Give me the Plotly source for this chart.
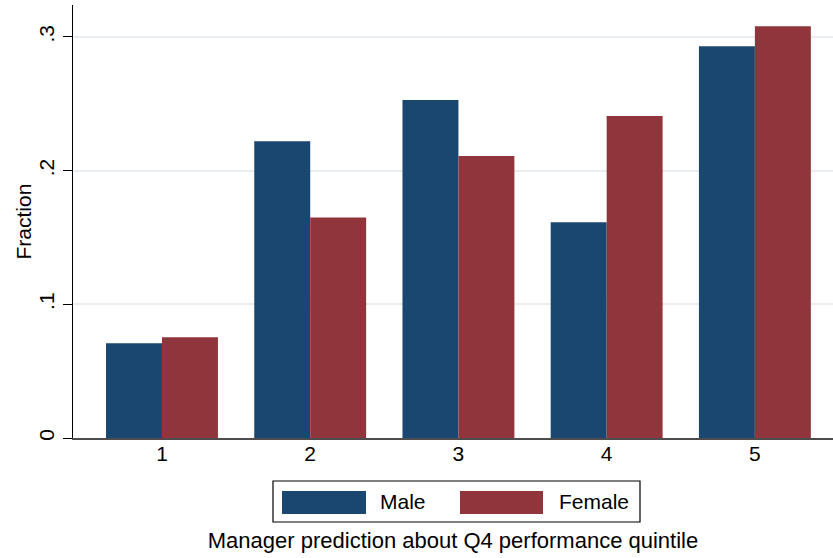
import plotly.graph_objects as go

# ---- data ----
categories = [1, 2, 3, 4, 5]
male = [0.0709, 0.222, 0.2528, 0.1614, 0.293]
female = [0.0754, 0.165, 0.211, 0.2408, 0.308]
ytick_vals = [0, 0.1, 0.2, 0.3]
ytick_text = ["0", ".1", ".2", ".3"]
series_names = ["Male", "Female"]
colors = ["#1a476f", "#90353b"]

W, H = 833, 558
L, R, T, B = 73, 0, 5, 120
pw, ph = W - L - R, H - T - B

def px_x(p):
    return (p - L) / pw

def px_y(p):
    return (H - B - p) / ph

FONT = "Liberation Sans, Arial, Helvetica, sans-serif"

fig = go.Figure()
for name, vals, col in zip(series_names, [male, female], colors):
    fig.add_trace(go.Bar(x=categories, y=vals, name=name,
                         marker=dict(color=col, line=dict(width=0)),
                         showlegend=False))

fig.update_layout(
    width=W, height=H,
    margin=dict(l=L, r=R, t=T, b=B, autoexpand=False),
    paper_bgcolor="white", plot_bgcolor="white",
    barmode="group", bargap=0.245, bargroupgap=0,
    font=dict(family=FONT, size=21, color="black"),
    showlegend=False,
)

fig.update_xaxes(
    range=[0.3997, 5.527], tickvals=categories,
    ticktext=[str(c) for c in categories],
    ticks="", showgrid=False, zeroline=False,
    showline=True, linecolor="#4d4d4d", linewidth=2,
    tickfont=dict(size=21), ticklabelstandoff=-4,
    title=dict(text="Manager prediction about Q4 performance quintile",
               font=dict(size=22), standoff=68),
    automargin=False,
)
fig.update_yaxes(
    range=[0, 0.3239], tickvals=ytick_vals, ticktext=ytick_text,
    tickangle=-90, ticks="outside", ticklen=9, tickcolor="black", tickwidth=1,
    showline=True, linecolor="black", linewidth=1.3,
    showgrid=True, gridcolor="#e8eef1", gridwidth=1.5, zeroline=False,
    tickfont=dict(size=21), ticklabelstandoff=0,
    automargin=False,
)

# custom legend (Stata style: wide swatches in a framed box)
shapes = [dict(type="rect", xref="paper", yref="paper",
               x0=px_x(273), x1=px_x(640), y0=px_y(522), y1=px_y(481),
               line=dict(color="black", width=1.2), fillcolor="white")]
swatches = [(282, 366, 378), (460, 543, 557)]
annotations = [dict(text="Fraction", xref="paper", yref="paper",
                    x=px_x(23), y=0.5, xanchor="center", yanchor="middle",
                    textangle=-90, showarrow=False, font=dict(size=21))]
for (sx0, sx1, tx), name, col in zip(swatches, series_names, colors):
    shapes.append(dict(type="rect", xref="paper", yref="paper",
                       x0=px_x(sx0), x1=px_x(sx1), y0=px_y(514), y1=px_y(491),
                       line=dict(width=0), fillcolor=col))
    annotations.append(dict(text=name, xref="paper", yref="paper",
                            x=px_x(tx), y=px_y(502), xanchor="left", yanchor="middle",
                            showarrow=False, font=dict(size=21)))
fig.update_layout(shapes=shapes, annotations=annotations)

fig.write_html("out.html", config={"displayModeBar": False},
               post_script="document.body.style.margin='0px';")
